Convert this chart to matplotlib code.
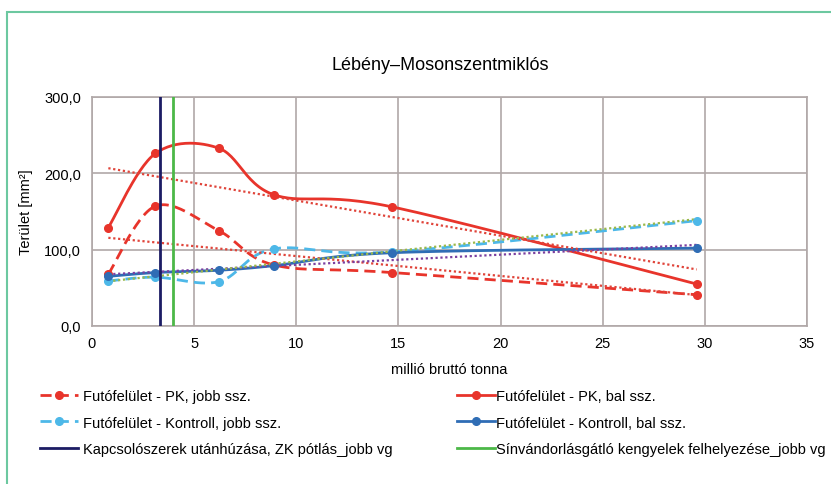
import numpy as np
import matplotlib.pyplot as plt
from matplotlib.patches import Rectangle
from matplotlib.ticker import FuncFormatter

plt.rcParams['font.family'] = ['Liberation Sans', 'DejaVu Sans']

# --- adatok (leolvasva) ---
mbt = [0.8, 3.1, 6.2, 8.9, 14.7, 29.6]
pk_jobb = [68, 157, 125, 80, 70, 41]
pk_bal = [129, 226, 233, 172, 156, 55]
kontroll_jobb = [59, 64, 58, 101, 97, 138]
kontroll_bal = [65, 70, 73, 79, 96, 102]
kapcs_x = 3.35
sinvand_x = 3.98

labels = ['Futófelület - PK, jobb ssz.', 'Futófelület - PK, bal ssz.',
          'Futófelület - Kontroll, jobb ssz.', 'Futófelület - Kontroll, bal ssz.',
          'Kapcsolószerek utánhúzása, ZK pótlás_jobb vg',
          'Sínvándorlásgátló kengyelek felhelyezése_jobb vg']

RED = '#e8342b'
LBLUE = '#4db8e8'
BLUE = '#2f6db5'
NAVY = '#1c1c64'
GREEN = '#4cb848'


def smooth(x, y, n=30):
    # Excel-szerű simított vonal (Bezier, 1/6 feszítés)
    p = np.column_stack([x, y]).astype(float)
    out = [p[0]]
    for i in range(len(p) - 1):
        p0 = p[i - 1] if i > 0 else p[i]
        p1, p2 = p[i], p[i + 1]
        p3 = p[i + 2] if i + 2 < len(p) else p[i + 1]
        c1 = p1 + (p2 - p0) / 6
        c2 = p2 - (p3 - p1) / 6
        t = np.linspace(0, 1, n)[1:, None]
        seg = (1 - t) ** 3 * p1 + 3 * (1 - t) ** 2 * t * c1 + 3 * (1 - t) * t ** 2 * c2 + t ** 3 * p2
        out.extend(seg)
    out = np.array(out)
    return out[:, 0], out[:, 1]


def trend(ax, x, y, color, lw=1.6):
    # lineáris trendvonal
    k, b = np.polyfit(x, y, 1)
    xs = np.array([min(x), max(x)])
    ax.plot(xs, k * xs + b, color=color, lw=lw, ls=(0, (1, 1.2)), zorder=4)


fig = plt.figure(figsize=(8.31, 4.85), dpi=100)
fig.patches.append(Rectangle((7 / 831, -0.1), 1.2, 1 - 13 / 485 + 0.1,
                             transform=fig.transFigure, fill=False,
                             edgecolor='#6cc8a0', lw=1.5))
ax = fig.add_axes([92 / 831, 1 - 327 / 485, 715 / 831, 229 / 485])

handles = []
series = [(pk_jobb, RED, (0, (4, 2.2))), (pk_bal, RED, '-'),
          (kontroll_jobb, LBLUE, (0, (4, 2.2))), (kontroll_bal, BLUE, '-')]
for vals, col, ls in series:
    sx, sy = smooth(mbt, vals)
    ax.plot(sx, sy, color=col, lw=2, ls=ls, zorder=3)
    ax.plot(mbt, vals, 'o', color=col, ms=5.5, zorder=5)
    h, = ax.plot([], [], color=col, lw=2, ls=ls, marker='o', ms=5.5)
    handles.append(h)

trend(ax, mbt, pk_bal, '#e0443a')
trend(ax, mbt, pk_jobb, '#e0443a')
trend(ax, mbt, kontroll_bal, '#7b3fa0')
trend(ax, mbt, kontroll_jobb, '#9ab84a')

h1 = ax.axvline(kapcs_x, color=NAVY, lw=2, zorder=6)
h2 = ax.axvline(sinvand_x, color=GREEN, lw=2, zorder=6)
handles += [h1, h2]

ax.set_xlim(0, 35)
ax.set_ylim(0, 300)
ax.set_xticks(range(0, 36, 5))
ax.set_yticks([0, 100, 200, 300])
ax.yaxis.set_major_formatter(FuncFormatter(lambda v, p: f'{v:.1f}'.replace('.', ',')))
ax.grid(True, color='#b0a8a8', lw=1.2)
ax.set_axisbelow(True)
for s in ax.spines.values():
    s.set_color('#b0a8a8')
    s.set_linewidth(1.2)
ax.tick_params(axis='y', length=0, labelsize=10.5, pad=8)
ax.tick_params(axis='x', length=0, labelsize=10.5, pad=7)

fig.text(440 / 831, 1 - 65 / 485, 'Lébény–Mosonszentmiklós', fontsize=13,
         ha='center', va='center')
ax.set_xlabel('millió bruttó tonna', fontsize=10.5, labelpad=9)
ax.set_ylabel('Terület [mm²]', fontsize=10.5, labelpad=8)

# két oszlopos jelmagyarázat, külön a bal és a jobb oszlop
kw = dict(loc='upper left', frameon=False, fontsize=10.5, handlelength=2.6,
          labelspacing=0.86, borderaxespad=0, borderpad=0)
fig.legend([handles[i] for i in (0, 2, 4)], [labels[i] for i in (0, 2, 4)],
           bbox_to_anchor=(40 / 831, 1 - 390 / 485), handletextpad=0.35, **kw)
fig.legend([handles[i] for i in (1, 3, 5)], [labels[i] for i in (1, 3, 5)],
           bbox_to_anchor=(457 / 831, 1 - 390 / 485), handletextpad=0.1, **kw)

fig.savefig('out.png', dpi=100)
